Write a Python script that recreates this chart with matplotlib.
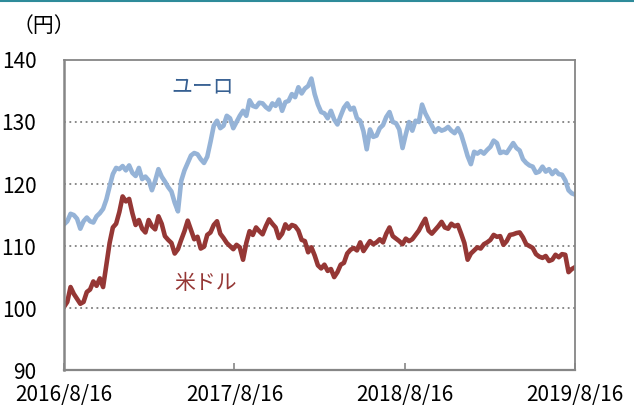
import matplotlib
matplotlib.use("Agg")
import matplotlib.pyplot as plt
import pandas as pd
from matplotlib.lines import Line2D

plt.rcParams["font.family"] = ["Noto Sans CJK JP", "DejaVu Sans"]

# weekly readings, 2016/8/16 .. 2019/8/16 (yen)
START, END = "2016-08-16", "2019-08-16"

usd = [
    100.2, 101.0, 103.4, 102.3, 101.5, 100.7, 101.0, 102.6, 103.0, 104.3, 103.6, 104.8, 103.4,
    107.0, 110.5, 113.0, 113.6, 115.5, 118.0, 117.2, 117.6, 115.3, 113.4, 114.2, 112.8, 112.2,
    114.2, 113.2, 112.7, 114.8, 113.6, 111.6, 111.0, 110.5, 108.8, 109.5, 111.0, 112.4, 114.1,
    112.6, 111.1, 111.5, 109.6, 109.9, 111.8, 112.2, 113.4, 114.0, 112.0, 111.3, 110.5, 110.0,
    109.5, 110.2, 109.8, 107.8, 110.5, 112.4, 111.8, 113.0, 112.4, 111.9, 113.2, 114.3, 113.6,
    113.0, 111.3, 112.0, 113.5, 112.8, 113.4, 113.2, 112.5, 111.0, 110.8, 109.0, 109.8, 108.5,
    106.9, 106.4, 107.0, 106.0, 106.3, 105.0, 105.8, 107.0, 107.3, 108.8, 109.4, 109.7, 109.3,
    110.6, 109.2, 110.0, 110.8, 110.3, 110.6, 111.1, 110.6, 112.0, 113.0, 111.6, 111.2, 110.8,
    110.3, 111.2, 110.8, 111.1, 111.8, 112.5, 113.5, 114.4, 112.5, 112.0, 112.6, 113.2, 113.9,
    113.0, 112.8, 113.6, 113.2, 113.4, 112.0, 110.5, 107.8, 108.8, 109.3, 109.8, 109.6, 110.3,
    110.6, 111.0, 111.8, 111.5, 111.6, 110.2, 110.8, 111.8, 111.9, 112.1, 112.2, 111.4, 110.3,
    110.0, 109.7, 108.7, 108.3, 108.1, 108.4, 107.6, 107.8, 108.6, 108.2, 108.7, 108.6, 105.8,
    106.3, 106.6,
]

euro = [
    113.5, 114.0, 115.2, 115.0, 114.4, 112.8, 114.0, 114.6, 114.0, 113.8, 114.8, 115.3, 116.0,
    117.5, 119.6, 121.6, 122.6, 122.4, 122.9, 122.2, 123.0, 121.8, 121.3, 122.6, 120.8, 121.2,
    120.6, 119.0, 120.5, 122.4, 121.2, 120.4, 119.5, 118.8, 117.0, 115.6, 120.5, 122.2, 123.4,
    124.6, 125.0, 124.8, 124.0, 123.4, 124.4, 126.8, 129.4, 130.2, 129.0, 129.4, 131.0, 130.6,
    129.0, 130.0, 131.0, 131.8, 131.0, 133.5, 132.6, 132.4, 133.1, 133.0, 132.4, 132.0, 133.0,
    132.6, 133.6, 131.8, 133.2, 133.4, 134.5, 134.0, 135.6, 134.6, 135.4, 135.8, 137.0, 134.5,
    132.8, 131.6, 131.4, 130.6, 131.8, 130.4, 129.6, 131.0, 132.3, 133.0, 132.0, 132.3, 130.6,
    130.2, 128.5, 125.6, 128.8, 127.6, 127.8, 129.0, 129.5, 130.8, 131.6, 130.0, 129.8, 128.8,
    125.8, 128.0, 130.0, 128.6, 130.2, 130.0, 132.8, 131.4, 130.4, 129.4, 128.4, 129.0, 128.6,
    128.8, 129.2, 128.6, 128.2, 129.0, 128.0, 126.3, 124.5, 123.2, 125.2, 124.9, 125.3, 124.9,
    125.5, 126.0, 127.0, 126.6, 125.0, 125.2, 125.0, 125.8, 126.6, 125.8, 125.4, 124.0, 123.4,
    123.0, 122.8, 121.8, 122.0, 122.8, 122.0, 122.4, 121.6, 122.2, 121.6, 121.5, 120.6, 119.0,
    118.5, 118.3,
]

tick_dates = ["2016-08-16", "2017-08-16", "2018-08-16", "2019-08-16"]
tick_labels = ["2016/8/16", "2017/8/16", "2018/8/16", "2019/8/16"]
y_ticks = [90, 100, 110, 120, 130, 140]

dates = pd.date_range(START, END, periods=len(usd))

C_EURO = "#95b3d7"
C_USD = "#953735"
C_EURO_TXT = "#376092"
C_AXIS = "#868686"

fig = plt.figure(figsize=(6.34, 4.05), dpi=100)
ax = fig.add_axes([0.101, 0.086, 0.806, 0.766])

ax.plot(dates, euro, color=C_EURO, lw=3.3, solid_joinstyle="round")
ax.plot(dates, usd, color=C_USD, lw=3.3, solid_joinstyle="round")

ax.set_ylim(90, 140)
ax.set_xlim(pd.Timestamp(START), pd.Timestamp(END))
ax.set_yticks(y_ticks)
ax.set_xticks(pd.to_datetime(tick_dates))
ax.set_xticklabels(tick_labels)

# dotted gridlines between the frame edges
for y in y_ticks[1:-1]:
    ax.axhline(y, color="#808080", lw=1.3, ls=(0, (1, 2)), zorder=0)

for side in ["left", "bottom", "right", "top"]:
    ax.spines[side].set_color(C_AXIS)
    ax.spines[side].set_linewidth(1.3)
ax.spines["left"].set_linewidth(1.8)
ax.spines["bottom"].set_linewidth(1.6)

ax.tick_params(axis="y", length=0, pad=20, labelsize=15)
ax.tick_params(axis="x", direction="in", length=5, width=1.2, color=C_AXIS,
               pad=10, labelsize=15)

ax.text(0.272, 0.913, "ユーロ", transform=ax.transAxes, color=C_EURO_TXT,
        fontsize=15, ha="center", va="center")
ax.text(0.276, 0.281, "米ドル", transform=ax.transAxes, color=C_USD,
        fontsize=15, ha="center", va="center")
fig.text(0.02, 0.935, "（円）", fontsize=15, ha="left", va="center")

fig.add_artist(Line2D([0, 1], [0.998, 0.998], transform=fig.transFigure,
                      color="#2e8b9a", lw=1.5))

fig.savefig("out.png", dpi=100)
